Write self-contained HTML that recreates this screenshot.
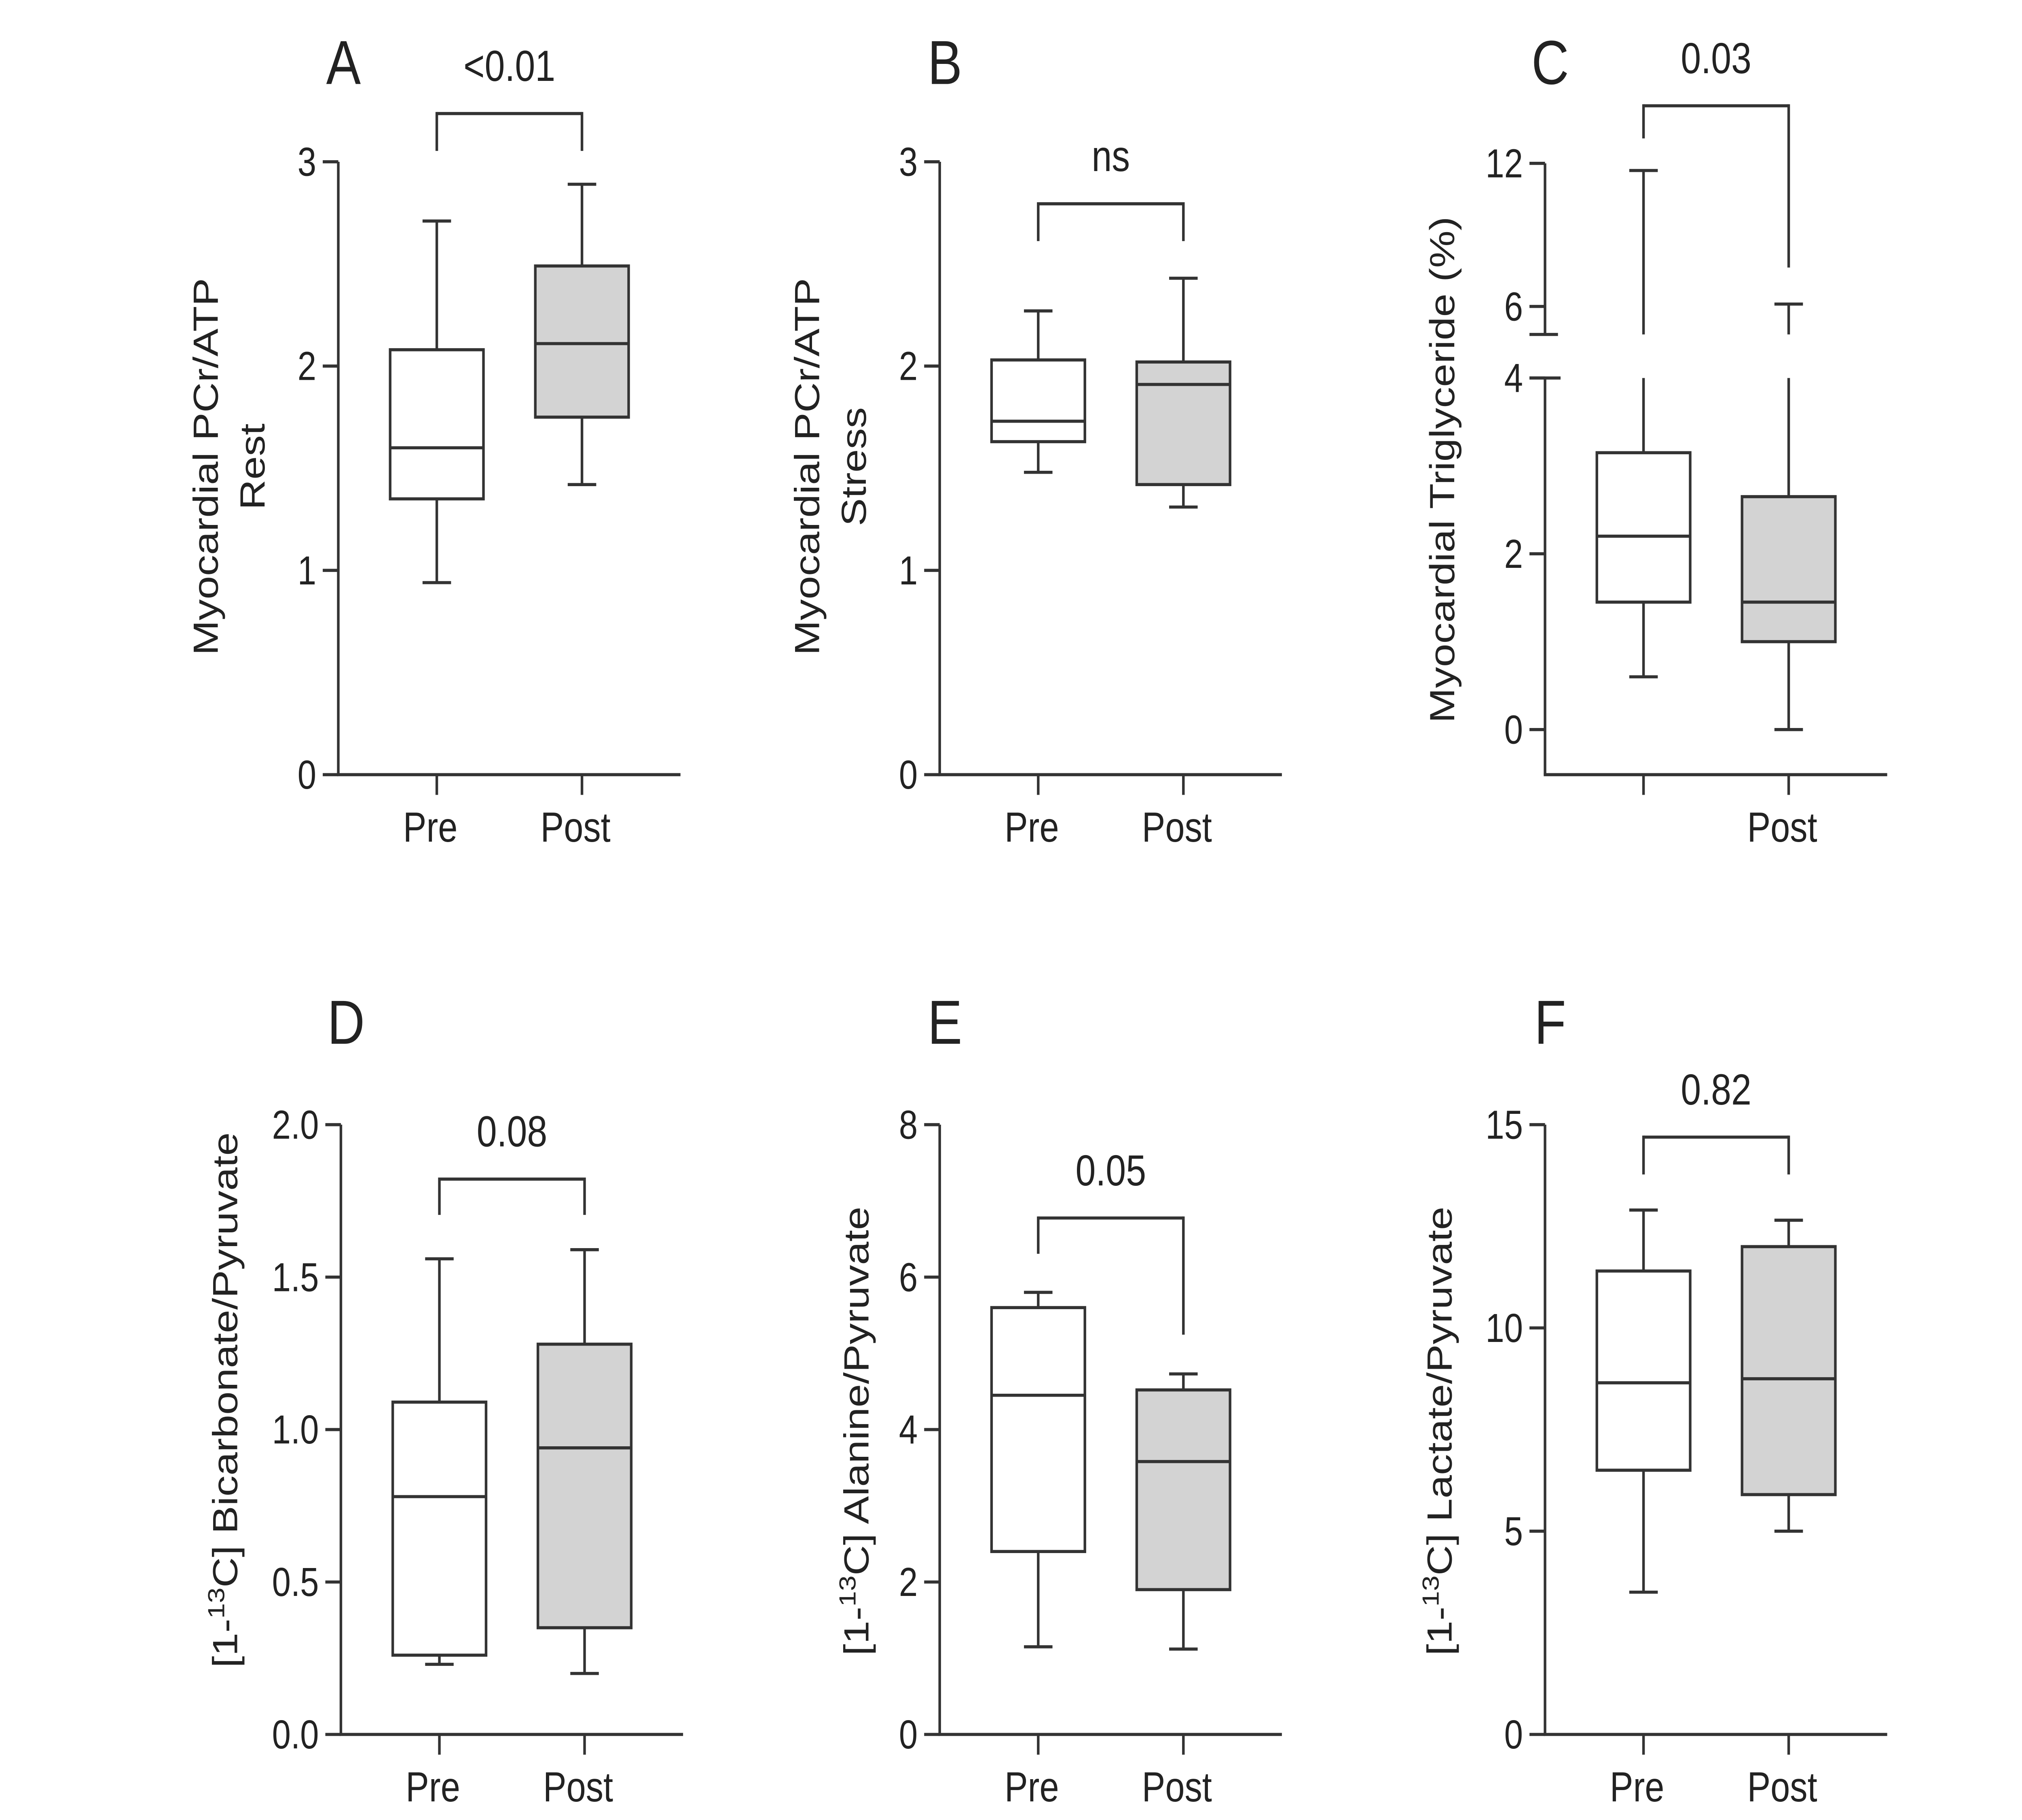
<!DOCTYPE html>
<html><head><meta charset="utf-8"><style>
html,body{margin:0;padding:0;background:#fff;width:100%;height:100%;overflow:hidden;}
svg{display:block;width:100vw;height:100vh;}
text{font-family:"Liberation Sans",Arial,sans-serif;fill:#222;}
</style></head>
<body>
<svg viewBox="0 0 1560 1170" preserveAspectRatio="none" xmlns="http://www.w3.org/2000/svg">
<rect width="1560" height="1170" fill="#fff"/>
<g id="fig"></g>
</svg>
<script>
// ---- data ----
const groups = ["Pre", "Post"];
// box stats: [min, q1, median, q3, max]
const aPre = [0.94, 1.35, 1.60, 2.08, 2.71];
const aPost = [1.42, 1.75, 2.11, 2.49, 2.89];
const aTicks = [0, 1, 2, 3];
const bPre = [1.48, 1.63, 1.73, 2.03, 2.27];
const bPost = [1.31, 1.42, 1.91, 2.02, 2.43];
const bTicks = [0, 1, 2, 3];
const cPre = [0.6, 1.45, 2.2, 3.15, 11.7];
const cPost = [0.0, 1.0, 1.45, 2.65, 6.1];
const cTicksLow = [0, 2, 4];
const cTicksHigh = [6, 12];
const dPre = [0.23, 0.26, 0.78, 1.09, 1.56];
const dPost = [0.20, 0.35, 0.94, 1.28, 1.59];
const dTicks = ["0.0", "0.5", "1.0", "1.5", "2.0"];
const ePre = [1.15, 2.4, 4.45, 5.6, 5.8];
const ePost = [1.12, 1.9, 3.58, 4.52, 4.73];
const eTicks = [0, 2, 4, 6, 8];
const fPre = [3.5, 6.5, 8.65, 11.4, 12.9];
const fPost = [5.0, 5.9, 8.75, 12.0, 12.65];
const fTicks = [0, 5, 10, 15];
const pValues = ["<0.01", "ns", "0.03", "0.08", "0.05", "0.82"];

const NS = "http://www.w3.org/2000/svg";
const svg = document.getElementById("fig");
const STROKE = "#333";
function el(tag, attrs, parent, txt) {
  const e = document.createElementNS(NS, tag);
  for (const k in attrs) e.setAttribute(k, attrs[k]);
  if (txt !== undefined) e.textContent = txt;
  (parent || svg).appendChild(e);
  return e;
}
function line(g, x1, y1, x2, y2) {
  return el("line", {x1, y1, x2, y2, stroke: STROKE, "stroke-width": 2}, g);
}

function drawBox(g, x, s, yf, fill, name, breakRange) {
  const bg = el("g", {}, g);
  
  
  const hw = 36, cw = 11;
  const seg = (v1, v2) => {
    let y1 = yf(v1), y2 = yf(v2);
    if (breakRange && y1 > breakRange[1] && y2 < breakRange[0]) {
      line(bg, x, y1, x, breakRange[1]); line(bg, x, breakRange[0], x, y2);
    } else line(bg, x, y1, x, y2);
  };
  seg(s[0], s[1]); seg(s[3], s[4]);
  line(bg, x - cw, yf(s[0]), x + cw, yf(s[0]));
  line(bg, x - cw, yf(s[4]), x + cw, yf(s[4]));
  el("rect", {x: x - hw, y: yf(s[3]), width: 2 * hw, height: yf(s[1]) - yf(s[3]), fill, stroke: STROKE, "stroke-width": 2}, bg);
  line(bg, x - hw, yf(s[2]), x + hw, yf(s[2]));
}

function panel(o) {
  const g = el("g", {});
  
  
  const ax = o.ax, bottom = o.bottom;
  const xs = [ax + 76, ax + 188];
  const L = el("text", {x: o.ax + 4, y: o.letterY, "font-size": 40, "text-anchor": "middle"}, g, o.letter);
  
  
  const axg = el("g", {}, g);
  
  
  if (o.breakAxis) {
    line(axg, ax, o.yf(o.ticksHigh[o.ticksHigh.length - 1]), ax, o.brk[0]);
    line(axg, ax - 12, o.brk[0], ax + 10, o.brk[0]);
    line(axg, ax, o.brk[1], ax, bottom);
    line(axg, ax - 12, o.brk[1], ax + 12, o.brk[1]);
  } else {
    line(axg, ax, o.yf(o.tickVals[o.tickVals.length - 1]), ax, bottom);
  }
  const allTicks = o.breakAxis ? o.ticksLow.concat(o.ticksHigh) : o.tickVals;
  allTicks.forEach((v, i) => {
    const y = o.yf(+v);
    line(axg, ax - 12, y, ax, y);
    const lbl = o.tickLabels ? o.tickLabels[i] : String(v);
    const t = el("text", {x: ax - 17, y: y + 9, "font-size": 26, "text-anchor": "end"}, axg, lbl);
    
    
  });
  const xg = el("g", {}, g);
  
  
  line(xg, ax - 1, bottom, ax + 264, bottom);
  groups.forEach((gname, i) => {
    line(xg, xs[i], bottom, xs[i], bottom + 13);
    if (o.hideLabels && o.hideLabels[i]) return;
    const t = el("text", {x: xs[i] - 5, y: bottom + 43, "font-size": 27, "text-anchor": "middle"}, xg, gname);
    
    
  });
  const tt = el("text", {transform: `translate(${o.titleX},${o.titleY}) rotate(-90)`, "font-size": 27, "text-anchor": "middle"}, g);
  
  
  if (o.iso) {
    el("tspan", {}, tt, "[1-");
    el("tspan", {"font-size": 18, dy: -10}, tt, "13");
    el("tspan", {dy: 10}, tt, "C] " + o.title);
  } else {
    tt.textContent = o.title;
  }
  if (o.title2) {
    const t2 = el("text", {transform: `translate(${o.titleX + 36},${o.titleY}) rotate(-90)`, "font-size": 27, "text-anchor": "middle"}, g, o.title2);
    
    
  }
  drawBox(g, xs[0], o.pre, o.yf, "#fff", "box-pre", o.brk);
  drawBox(g, xs[1], o.post, o.yf, "#d3d3d3", "box-post", o.brk);
  const br = el("g", {}, g);
  
  
  line(br, xs[0], o.brY, xs[1], o.brY);
  line(br, xs[0], o.brY - 1, xs[0], o.brL);
  line(br, xs[1], o.brY - 1, xs[1], o.brR);
  const pv = el("text", {x: (xs[0] + xs[1]) / 2, y: o.brY - 21, "font-size": 28, "text-anchor": "middle"}, br, o.p);
  
  
}

function lin(v0, y0, v1, y1) { return v => y0 + (v - v0) * (y1 - y0) / (v1 - v0); }

panel({letter: "A", ax: 261, bottom: 498, letterY: 54, yf: lin(0, 498, 3, 104), tickVals: aTicks,
  pre: aPre, post: aPost, brY: 73, brL: 97, brR: 97, p: pValues[0],
  title: "Myocardial PCr/ATP", title2: "Rest", titleX: 168, titleY: 300});
panel({letter: "B", ax: 725, bottom: 498, letterY: 54, yf: lin(0, 498, 3, 104), tickVals: bTicks,
  pre: bPre, post: bPost, brY: 131, brL: 155, brR: 155, p: pValues[1],
  title: "Myocardial PCr/ATP", title2: "Stress", titleX: 632, titleY: 300});
const cLow = lin(0, 469, 4, 243), cHigh = lin(6, 197, 12, 105);
panel({letter: "C", ax: 1192, bottom: 498, letterY: 54,
  yf: v => v <= 4.5 ? cLow(v) : cHigh(v), breakAxis: true, brk: [215, 243],
  ticksLow: cTicksLow, ticksHigh: cTicksHigh,
  pre: cPre, post: cPost, brY: 68, brL: 89, brR: 172, p: pValues[2], hideLabels: [true, false],
  title: "Myocardial Triglyceride (%)", titleX: 1122, titleY: 302});
panel({letter: "D", ax: 263, bottom: 1115, letterY: 671, yf: lin(0, 1115, 2, 723), tickVals: dTicks.map(Number), tickLabels: dTicks,
  pre: dPre, post: dPost, brY: 758, brL: 781, brR: 781, p: pValues[3],
  title: "Bicarbonate/Pyruvate", iso: true, titleX: 183, titleY: 900});
panel({letter: "E", ax: 725, bottom: 1115, letterY: 671, yf: lin(0, 1115, 8, 723), tickVals: eTicks,
  pre: ePre, post: ePost, brY: 783, brL: 806, brR: 858, p: pValues[4],
  title: "Alanine/Pyruvate", iso: true, titleX: 670, titleY: 920});
panel({letter: "F", ax: 1192, bottom: 1115, letterY: 671, yf: lin(0, 1115, 15, 723), tickVals: fTicks,
  pre: fPre, post: fPost, brY: 731, brL: 755, brR: 755, p: pValues[5],
  title: "Lactate/Pyruvate", iso: true, titleX: 1120, titleY: 920});
</script>
</body></html>
